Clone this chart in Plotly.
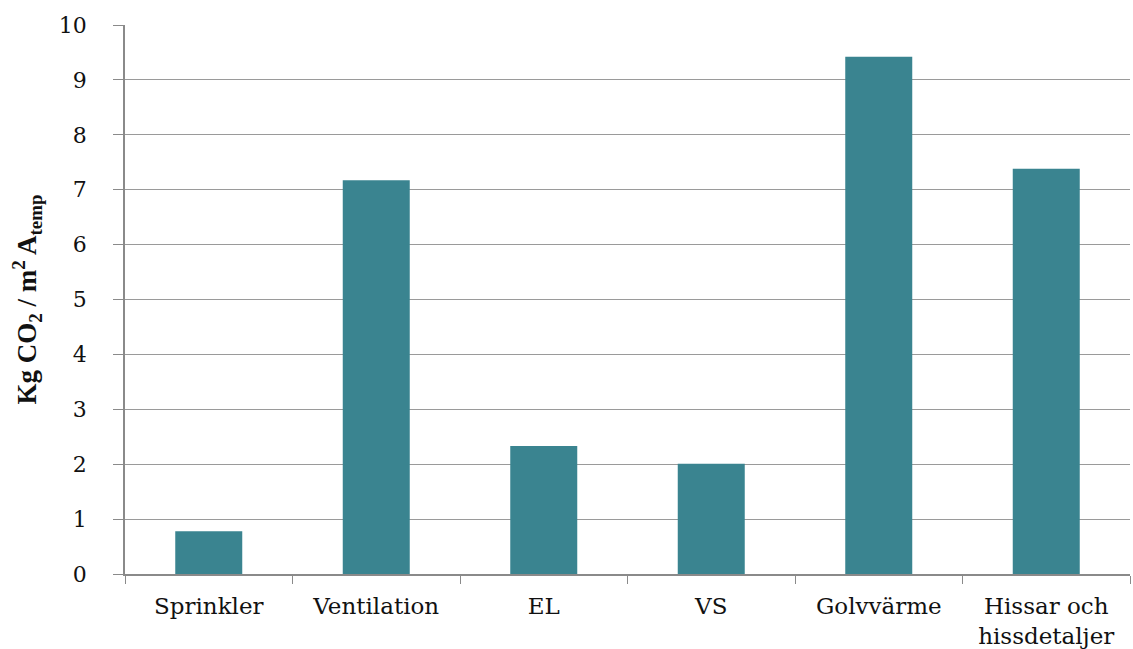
import plotly.graph_objects as go

categories = ["Sprinkler", "Ventilation", "EL", "VS", "Golvvärme", "Hissar och<br>hissdetaljer"]
values = [0.78, 7.17, 2.33, 2.01, 9.42, 7.38]
y_ticks = list(range(0, 11))

fig = go.Figure(go.Bar(
    x=categories, y=values, width=0.4,
    marker=dict(color="#3A8490", line=dict(width=0)),
))

fig.update_layout(
    width=1133, height=649,
    margin=dict(l=125, r=3, t=25, b=75),
    plot_bgcolor="white", paper_bgcolor="white",
    showlegend=False,
    font=dict(family="DejaVu Serif", size=20, color="#111111"),
)
fig.update_xaxes(
    showline=True, linecolor="#8a8a8a", linewidth=1.5,
    ticks="outside", tickson="boundaries", ticklen=8, tickcolor="#8a8a8a",
    tickfont=dict(family="DejaVu Serif", size=23),
    ticklabelstandoff=11, automargin=False,
)
fig.update_yaxes(
    range=[0, 10], tickvals=y_ticks,
    showline=True, linecolor="#8a8a8a", linewidth=1.5,
    ticks="outside", ticklen=10, tickcolor="#8a8a8a",
    showgrid=True, gridcolor="#9a9a9a", gridwidth=1,
    tickfont=dict(family="DejaVu Serif", size=22),
    ticklabelstandoff=22, automargin=False,
    title=dict(text="<b>Kg CO<sub>2</sub> / m<sup>2</sup> A<sub>temp</sub></b>",
               font=dict(family="Liberation Serif", size=27), standoff=14),
)

fig.write_html("out.html")
